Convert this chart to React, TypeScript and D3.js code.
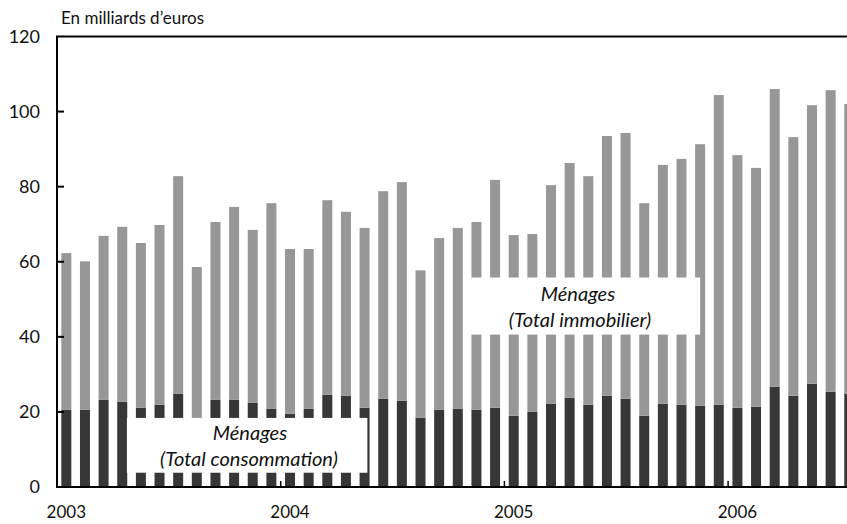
import React from "react";
import * as d3 from "d3";

const months = [
  "2003-01","2003-02","2003-03","2003-04","2003-05","2003-06","2003-07","2003-08","2003-09","2003-10","2003-11","2003-12",
  "2004-01","2004-02","2004-03","2004-04","2004-05","2004-06","2004-07","2004-08","2004-09","2004-10","2004-11","2004-12",
  "2005-01","2005-02","2005-03","2005-04","2005-05","2005-06","2005-07","2005-08","2005-09","2005-10","2005-11","2005-12",
  "2006-01","2006-02","2006-03","2006-04","2006-05","2006-06","2006-07",
];
const consommation = [
  20.6, 20.6, 23.2, 22.7, 21.1, 21.9, 24.8, 17.5, 23.2, 23.2, 22.4, 20.8,
  19.5, 20.8, 24.6, 24.3, 21.1, 23.5, 23.0, 18.4, 20.6, 20.8, 20.6, 21.1,
  19.0, 20.0, 22.2, 23.8, 21.9, 24.3, 23.5, 19.0, 22.2, 21.9, 21.6, 21.9,
  21.1, 21.4, 26.7, 24.3, 27.5, 25.4, 24.8,
];
const immobilier = [
  41.7, 39.5, 43.7, 46.6, 43.9, 47.9, 58.0, 41.1, 47.4, 51.4, 46.1, 54.8,
  43.9, 42.6, 51.8, 49.0, 47.9, 55.3, 58.2, 39.3, 45.7, 48.2, 50.0, 60.7,
  48.1, 47.4, 58.2, 62.5, 60.9, 69.2, 70.8, 56.6, 63.6, 65.5, 69.7, 82.5,
  67.3, 63.6, 79.3, 68.9, 74.2, 80.3, 77.2,
];
const yTicks = [0, 20, 40, 60, 80, 100, 120];
const yearLabels = ["2003", "2004", "2005", "2006"];
const unitLabel = "En milliards d\u2019euros";
const labelConso = ["Ménages", "(Total consommation)"];
const labelImmo = ["Ménages", "(Total immobilier)"];

const W = 847;
const H = 524;
const FONT = "Lato, 'Open Sans', sans-serif";

export default function App() {
  const x = d3.scaleLinear().domain([0, 12]).range([57, 280.7]);
  const y = d3.scaleLinear().domain([0, 120]).range([487, 36.5]);
  const barW = 10;

  const rows = months.map((m, i) => ({ m, i, conso: consommation[i], immo: immobilier[i] }));
  const series = d3.stack<any>().keys(["conso", "immo"])(rows);
  const colors: Record<string, string> = { conso: "#373737", immo: "#979797" };

  const xLeft = x(0);
  const xRight = W + 20;

  return (
    <svg width={W} height={H} style={{ position: "absolute", left: 0, top: 0, background: "#fff" }} fontFamily={FONT}>
      {series.map((s) => (
        <g key={s.key} fill={colors[s.key]}>
          {s.map((d, i) => (
            <rect
              key={i}
              x={x(i + 0.5) - barW / 2}
              width={barW}
              y={y(d[1])}
              height={y(d[0]) - y(d[1])}
            />
          ))}
        </g>
      ))}

      {/* label boxes */}
      <rect x={x(3.75)} y={y(18.4)} width={x(16.65) - x(3.75)} height={y(3.8) - y(18.4)} fill="#fff" />
      <text x={250} y={y(12.6)} textAnchor="middle" fontSize={20} fontStyle="italic" fill="#111">{labelConso[0]}</text>
      <text x={249} y={y(5.7)} textAnchor="middle" fontSize={20} fontStyle="italic" fill="#111">{labelConso[1]}</text>

      <rect x={x(21.95)} y={y(55.8)} width={x(34.5) - x(21.95)} height={y(40.6) - y(55.8)} fill="#fff" />
      <text x={578} y={y(49.6)} textAnchor="middle" fontSize={20} fontStyle="italic" fill="#111">{labelImmo[0]}</text>
      <text x={580} y={y(42.7)} textAnchor="middle" fontSize={20} fontStyle="italic" fill="#111">{labelImmo[1]}</text>

      {/* axes */}
      <line x1={xLeft} x2={xLeft} y1={y(120)} y2={y(0)} stroke="#000" strokeWidth={2} />
      <line x1={xLeft - 1} x2={xRight} y1={y(120)} y2={y(120)} stroke="#000" strokeWidth={2} />
      <line x1={xLeft - 1} x2={xRight} y1={y(0)} y2={y(0)} stroke="#000" strokeWidth={2} />

      {yTicks.map((t) => (
        <g key={t}>
          {t > 0 && t < 120 && (
            <line x1={xLeft} x2={xLeft + 7} y1={y(t)} y2={y(t)} stroke="#000" strokeWidth={2} />
          )}
          <text x={40} y={y(t)} dy="0.36em" textAnchor="end" fontSize={18} fill="#111">{t}</text>
        </g>
      ))}

      {yearLabels.map((lab, k) => (
        <g key={lab}>
          {k > 0 && <line x1={x(12 * k)} x2={x(12 * k)} y1={y(0)} y2={y(0) - 6} stroke="#000" strokeWidth={1.5} />}
          <text x={x(12 * k + 0.5)} y={518} textAnchor="middle" fontSize={17} fill="#111">{lab}</text>
        </g>
      ))}

      <text x={61} y={24} fontSize={17} fill="#111">{unitLabel}</text>
    </svg>
  );
}
